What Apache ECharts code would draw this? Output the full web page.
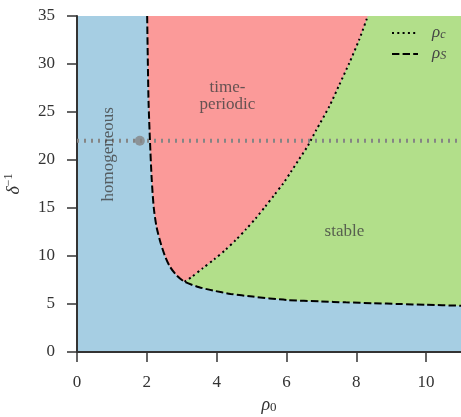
<!DOCTYPE html>
<html>
<head>
<meta charset="utf-8">
<script src="https://cdn.jsdelivr.net/npm/echarts@6/dist/echarts.min.js"></script>
<style>html,body{margin:0;padding:0;background:#fff}#c{width:461px;height:417px}</style>
</head>
<body>
<div id="c"></div>
<script>
// ---- data ----
const xTicks = [0, 2, 4, 6, 8, 10];
const yTicks = [0, 5, 10, 15, 20, 25, 30, 35];
// rho_S boundary (dashed)
const rhoS_x = [2.01, 2.03, 2.05, 2.09, 2.14, 2.20, 2.28, 2.40, 2.52, 2.66, 2.85, 3.08, 3.50, 3.90, 4.40, 5.03, 6.00, 7.00, 7.70, 8.50, 9.23, 10.0, 11.0];
const rhoS_y = [35.0, 30.0, 26.0, 22.0, 18.0, 15.0, 13.0, 11.3, 10.0, 8.9, 8.0, 7.32, 6.75, 6.4, 6.05, 5.77, 5.42, 5.27, 5.17, 5.08, 5.00, 4.92, 4.82];
// rho_c boundary (dotted)
const rhoC_x = [3.08, 3.27, 3.60, 3.93, 4.25, 4.55, 4.84, 5.12, 5.39, 5.65, 5.91, 6.13, 6.36, 6.61, 6.85, 7.23, 7.51, 7.80, 8.08, 8.33];
const rhoC_y = [7.32, 7.78, 8.72, 9.65, 10.63, 11.67, 12.78, 13.92, 15.14, 16.35, 17.57, 18.78, 20.07, 21.46, 23.1, 25.6, 27.8, 30.1, 32.5, 35.0];
// horizontal cut and marked point
const cutY = 22;
const cutX = [0, 11];
const pointX = 1.8;
const pointY = 22;
const xMin = 0, xMax = 11, yMin = 0, yMax = 35;
// region labels
const regionText = ['homogeneous', 'time-\nperiodic', 'stable'];
const regionX = [0.89, 4.31, 7.66];
const regionY = [20.6, 26.7, 12.5];
const regionRot = [90, 0, 0];

const FONT = 'Liberation Serif, DejaVu Serif, serif';
const AX = '#333333';

const meet = rhoS_x.indexOf(rhoC_x[0]);
const greenX = rhoS_x.slice(meet).concat([xMax], rhoC_x.slice().reverse());
const greenY = rhoS_y.slice(meet).concat([yMax], rhoC_y.slice().reverse());
const redX = rhoS_x.slice(0, meet + 1).concat(rhoC_x.slice(1));
const redY = rhoS_y.slice(0, meet + 1).concat(rhoC_y.slice(1));

function polySeries(px, py, color, z) {
  return {
    type: 'custom', silent: true, z: z,
    data: [[px[0], py[0]]],
    renderItem: function (params, api) {
      const pts = px.map((x, i) => api.coord([x, py[i]]));
      return { type: 'polygon', shape: { points: pts }, style: { fill: color } };
    }
  };
}

const chart = echarts.init(document.getElementById('c'), null, { renderer: 'canvas' });
chart.setOption({
  animation: false,
  grid: { left: 77, right: 0, top: 16, bottom: 65, show: true, backgroundColor: '#a6cee3', borderWidth: 0, containLabel: false, outerBoundsMode: 'none' },
  xAxis: {
    type: 'value', min: xMin, max: xMax,
    name: '{i|ρ}{s|0}', nameLocation: 'middle', nameGap: 42,
    nameTextStyle: { rich: { i: { fontFamily: FONT, fontStyle: 'italic', fontSize: 18, color: '#333', verticalAlign: 'bottom', lineHeight: 20 }, s: { fontFamily: FONT, fontSize: 13, color: '#333', verticalAlign: 'bottom', lineHeight: 16 } } },
    axisLine: { show: true, onZero: false, lineStyle: { color: AX, width: 2 } },
    axisTick: { show: true, length: 10, lineStyle: { color: AX, width: 1.5 }, customValues: xTicks },
    axisLabel: { fontFamily: FONT, fontSize: 17, color: '#333', margin: 22, customValues: xTicks },
    splitLine: { show: false }
  },
  yAxis: {
    type: 'value', min: yMin, max: yMax, interval: 5,
    name: '{i|δ}{s|−1}', nameLocation: 'middle', nameGap: 54, nameRotate: 90,
    nameTextStyle: { rich: { i: { fontFamily: FONT, fontStyle: 'italic', fontSize: 18, color: '#333', verticalAlign: 'bottom', lineHeight: 20 }, s: { fontFamily: FONT, fontSize: 12, color: '#333', verticalAlign: 'top', lineHeight: 20 } } },
    axisLine: { show: true, onZero: false, lineStyle: { color: AX, width: 2 } },
    axisTick: { show: true, length: 10, lineStyle: { color: AX, width: 1.5 }, customValues: yTicks },
    axisLabel: { fontFamily: FONT, fontSize: 17, color: '#333', margin: 22, customValues: yTicks },
    splitLine: { show: false }
  },
  legend: {
    left: 391, top: 24, orient: 'vertical', itemWidth: 26, itemHeight: 12, itemGap: 4, padding: 0,
    itemStyle: { opacity: 0 },
    data: ['rhoC', 'rhoS'],
    formatter: function (n) { return n === 'rhoC' ? '{i|ρ}{s|c}' : '{i|ρ}{s|S}'; },
    textStyle: { rich: {
      i: { fontFamily: FONT, fontStyle: 'italic', fontSize: 17, color: '#444', verticalAlign: 'bottom', lineHeight: 16, padding: [0, 0, 0, 9] },
      s: { fontFamily: FONT, fontStyle: 'italic', fontSize: 12, color: '#444', verticalAlign: 'bottom', lineHeight: 13 } } }
  },
  series: [
    polySeries(greenX, greenY, '#b2df8a', 1),
    polySeries(redX, redY, '#fb9a99', 2),
    {
      name: 'cut', type: 'line', z: 3, symbol: 'none', silent: true,
      data: cutX.map(x => [x, cutY]),
      lineStyle: { color: '#858585', width: 4, type: [2, 5] }
    },
    {
      name: 'pt', type: 'scatter', z: 4, silent: true, symbolSize: 10,
      data: [[pointX, pointY]], itemStyle: { color: '#858585' }
    },
    {
      name: 'rhoC', type: 'line', z: 5, symbol: 'none', silent: true, smooth: 0.25,
      data: rhoC_x.map((x, i) => [x, rhoC_y[i]]),
      itemStyle: { color: '#000' },
      lineStyle: { color: '#000', width: 2, type: [2, 3.3] }
    },
    {
      name: 'rhoS', type: 'line', z: 5, symbol: 'none', silent: true, smooth: 0.25,
      data: rhoS_x.map((x, i) => [x, rhoS_y[i]]),
      itemStyle: { color: '#000' },
      lineStyle: { color: '#000', width: 2, type: [7.4, 3.2] }
    },
    {
      name: 'labels', type: 'scatter', z: 6, silent: true, symbolSize: 0,
      data: regionText.map((t, i) => ({ value: [regionX[i], regionY[i]], label: { formatter: t, rotate: regionRot[i] } })),
      label: { show: true, position: 'inside', fontFamily: FONT, fontSize: 17, color: '#404040', lineHeight: 17, align: 'center', verticalAlign: 'middle' }
    }
  ]
});
</script>
</body>
</html>
